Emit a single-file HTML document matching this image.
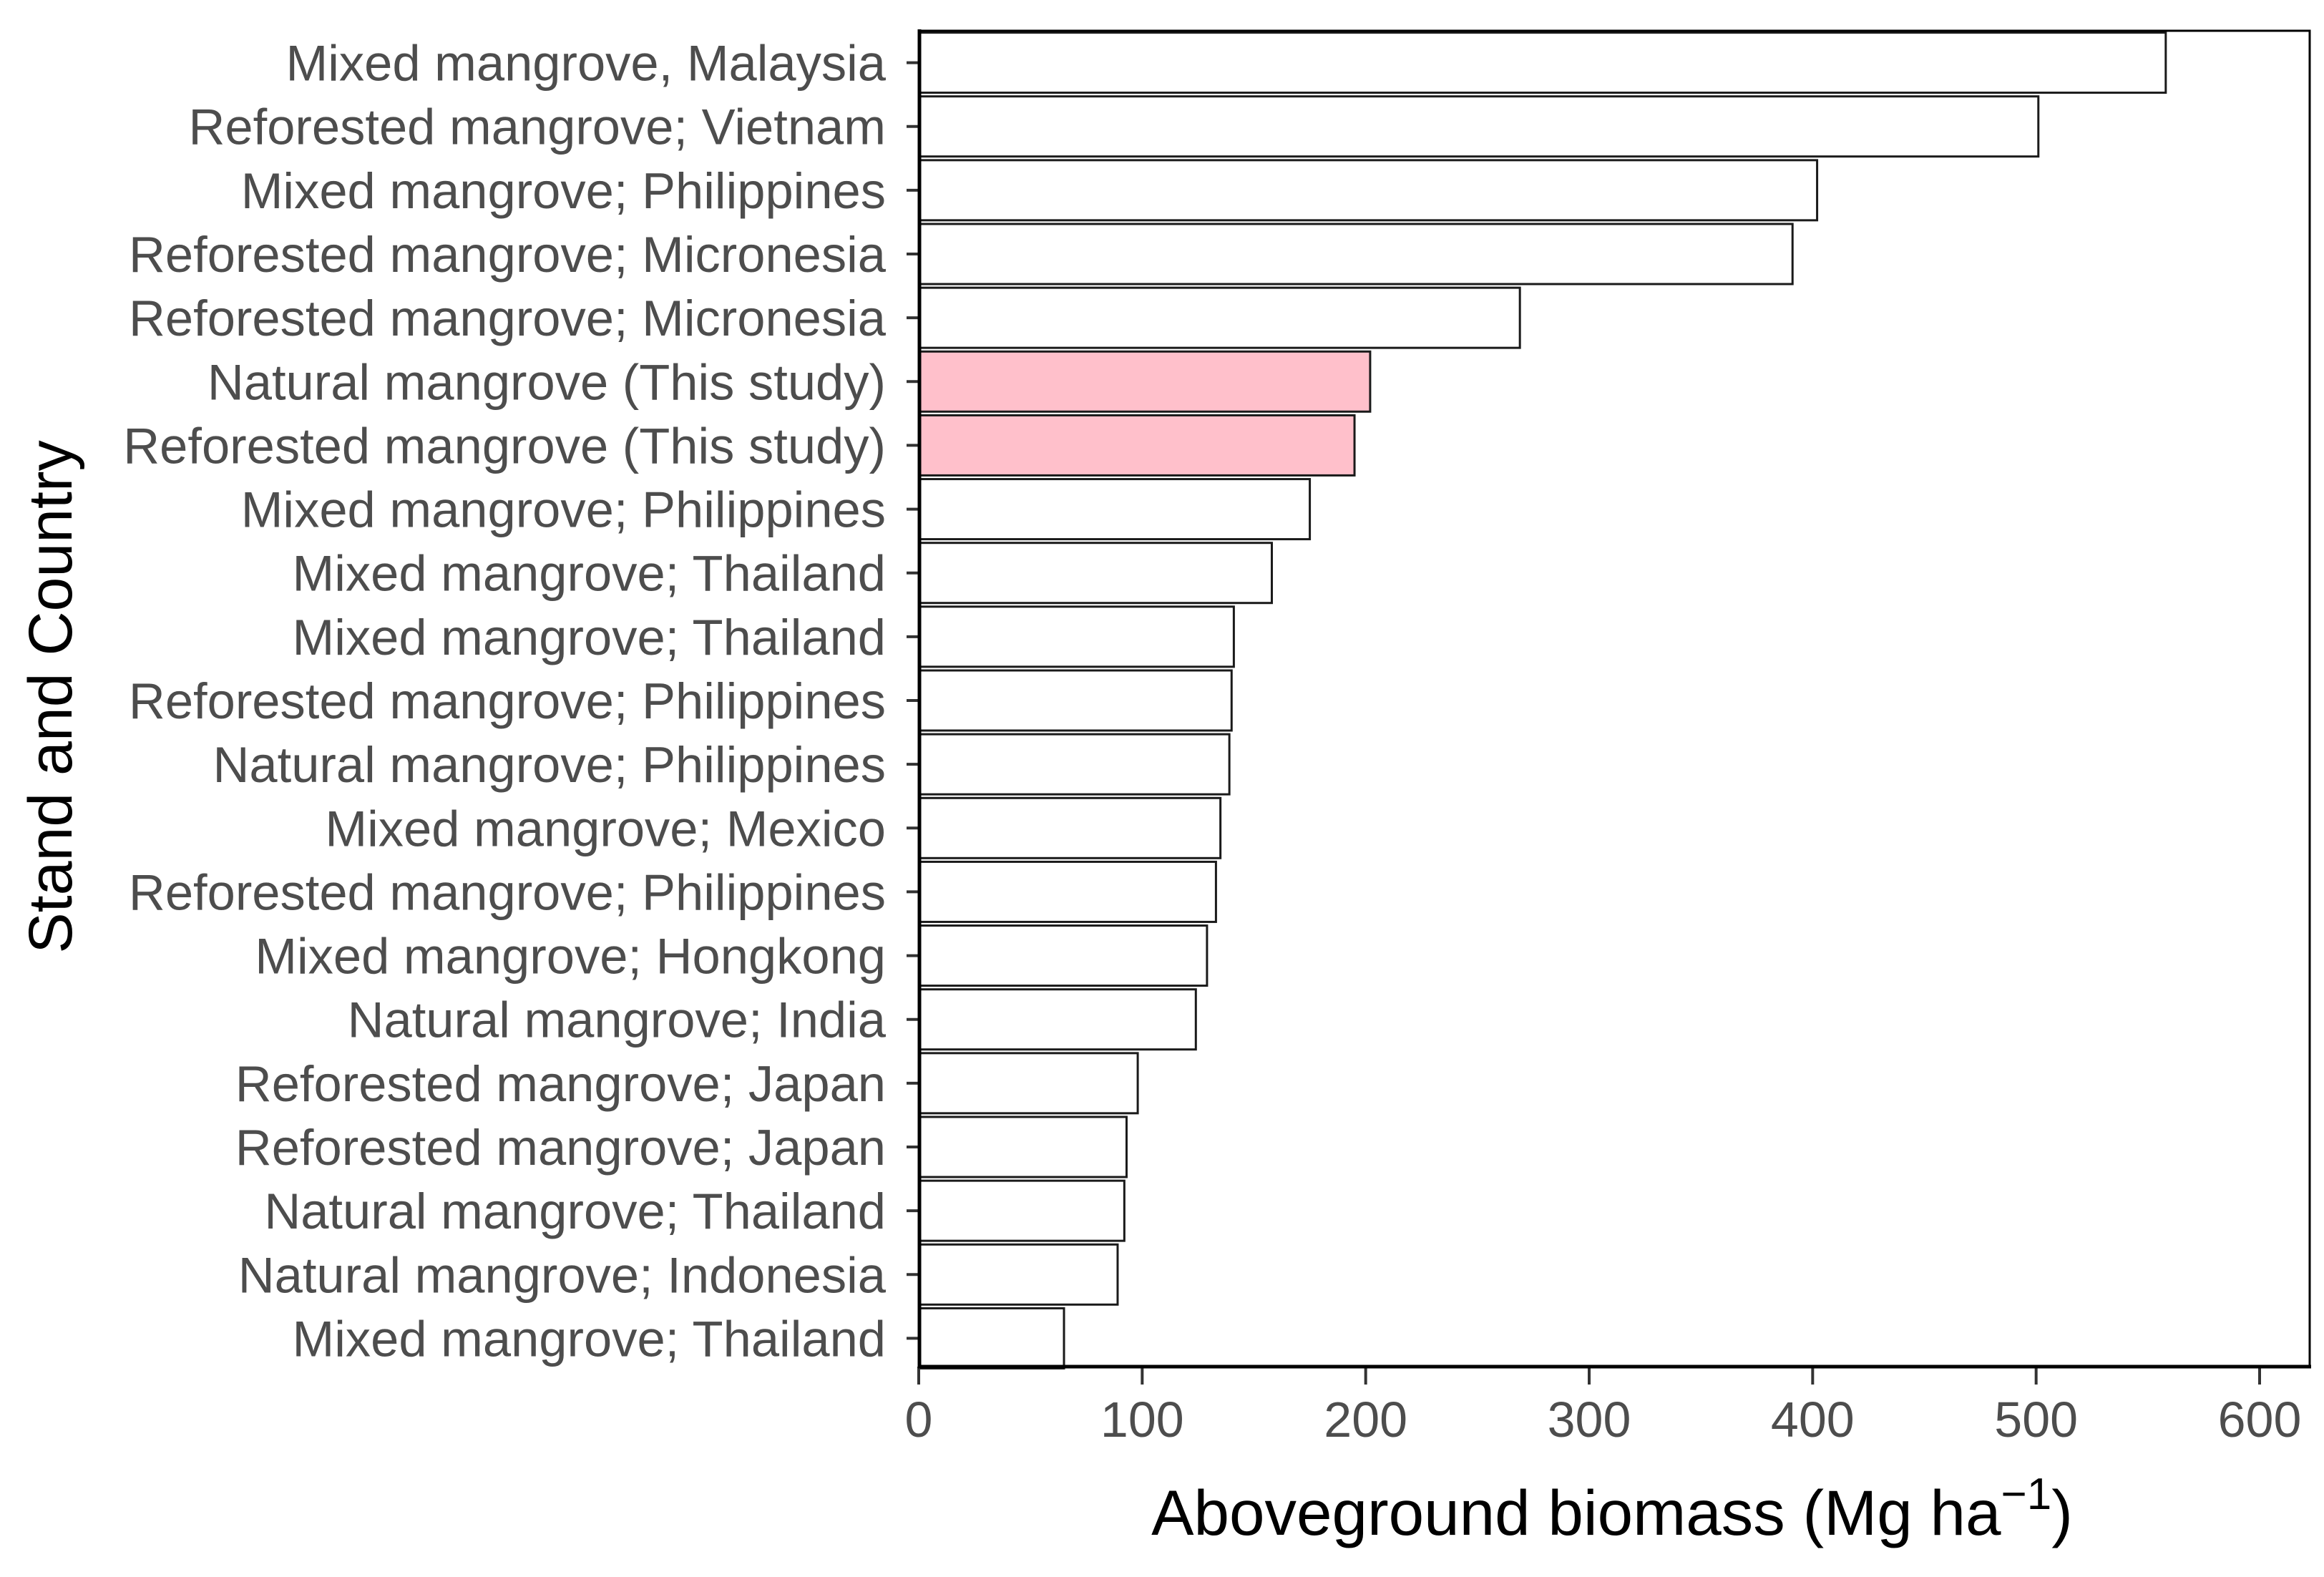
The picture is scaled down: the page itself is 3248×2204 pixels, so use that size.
<!DOCTYPE html>
<html><head><meta charset="utf-8"><style>
html,body{margin:0;padding:0;background:#fff;}
svg{display:block;font-family:"Liberation Sans",Arial,sans-serif;}
</style></head><body>
<svg id="chart" width="3248" height="2204" viewBox="0 0 3248 2204" xmlns="http://www.w3.org/2000/svg">
<rect x="0" y="0" width="3248" height="2204" fill="#fff"/>
<g id="bars"></g>
<g id="yaxis"></g>
<g id="xaxis"></g>
<rect x="1285" y="43" width="1943" height="1867" fill="none" stroke="#000" stroke-width="3"/>
<line x1="1285" y1="41" x2="1285" y2="1912" stroke="#000" stroke-width="5"/>
<line x1="1283" y1="1910" x2="3230" y2="1910" stroke="#000" stroke-width="5"/>
<text x="2253" y="2145" text-anchor="middle" font-size="89" fill="#000">Aboveground biomass (Mg ha<tspan dy="-36" font-size="62">−1</tspan><tspan dy="36">)</tspan></text>
<text transform="translate(100,974) rotate(-90)" text-anchor="middle" font-size="86" fill="#000">Stand and Country</text>
</svg>
<script>
const categories = ["Mixed mangrove, Malaysia","Reforested mangrove; Vietnam","Mixed mangrove; Philippines","Reforested mangrove; Micronesia","Reforested mangrove; Micronesia","Natural mangrove (This study)","Reforested mangrove (This study)","Mixed mangrove; Philippines","Mixed mangrove; Thailand","Mixed mangrove; Thailand","Reforested mangrove; Philippines","Natural mangrove; Philippines","Mixed mangrove; Mexico","Reforested mangrove; Philippines","Mixed mangrove; Hongkong","Natural mangrove; India","Reforested mangrove; Japan","Reforested mangrove; Japan","Natural mangrove; Thailand","Natural mangrove; Indonesia","Mixed mangrove; Thailand"];
const values = [558,501,402,391,269,202,195,175,158,141,140,139,135,133,129,124,98,93,92,89,65];
const highlighted = [false,false,false,false,false,true,true,false,false,false,false,false,false,false,false,false,false,false,false,false,false];
const xTicks = [0,100,200,300,400,500,600];

const NS="http://www.w3.org/2000/svg";
const x0=1284, pxPerUnit=(3158-1284)/600;
const yTop=43, yBottom=1915;
const band=(yBottom-yTop)/categories.length, barH=84;
function xs(v){return x0+v*pxPerUnit;}
function yc(i){return yTop+(i+0.5)*band;}
const bars=document.getElementById('bars');
const ya=document.getElementById('yaxis');
const xa=document.getElementById('xaxis');
categories.forEach((c,i)=>{
  const r=document.createElementNS(NS,'rect');
  
  
  r.setAttribute('x',xs(0));r.setAttribute('y',yc(i)-barH/2);
  r.setAttribute('width',xs(values[i])-xs(0));r.setAttribute('height',barH);
  r.setAttribute('fill',highlighted[i]?'#FFC0CB':'#fff');
  r.setAttribute('stroke','#1a1a1a');r.setAttribute('stroke-width','3');
  bars.appendChild(r);
  const t=document.createElementNS(NS,'line');
  
  
  t.setAttribute('x1',1267);t.setAttribute('x2',1285);t.setAttribute('y1',yc(i));t.setAttribute('y2',yc(i));
  t.setAttribute('stroke','#333');t.setAttribute('stroke-width','4');
  ya.appendChild(t);
  const l=document.createElementNS(NS,'text');
  
  
  l.setAttribute('x',1238);l.setAttribute('y',yc(i)+25);
  l.setAttribute('text-anchor','end');l.setAttribute('font-size','70.5');l.setAttribute('fill','#4d4d4d');
  l.textContent=c;
  ya.appendChild(l);
});
xTicks.forEach(v=>{
  const t=document.createElementNS(NS,'line');
  
  
  t.setAttribute('x1',xs(v));t.setAttribute('x2',xs(v));t.setAttribute('y1',1910);t.setAttribute('y2',1935);
  t.setAttribute('stroke','#333');t.setAttribute('stroke-width','4');
  xa.appendChild(t);
  const l=document.createElementNS(NS,'text');
  
  
  l.setAttribute('x',xs(v));l.setAttribute('y',2008);
  l.setAttribute('text-anchor','middle');l.setAttribute('font-size','70');l.setAttribute('fill','#4d4d4d');
  l.textContent=v;
  xa.appendChild(l);
});
</script>
</body></html>
